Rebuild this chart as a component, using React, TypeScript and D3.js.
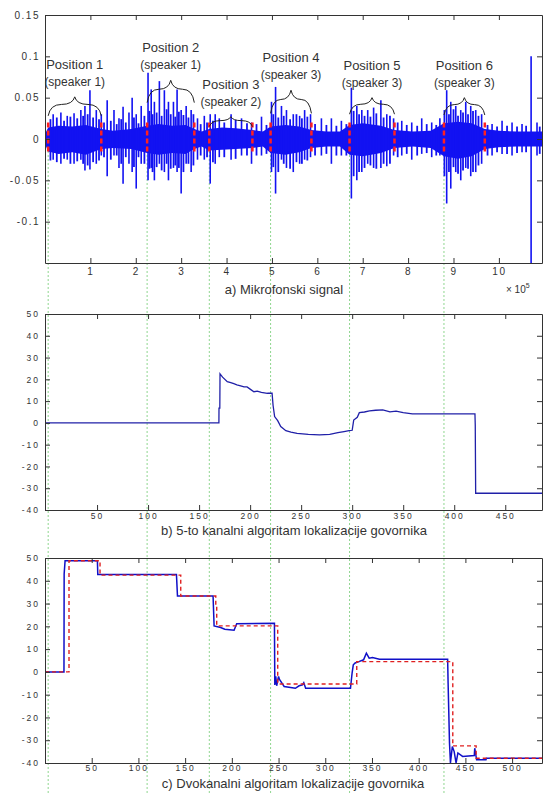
import React, { useEffect, useRef } from 'react';
import * as d3 from 'd3';

// ---- a) Mikrofonski signal (x in units of 10^5 samples)
const posStart = [0.07, 2.25, 3.62, 4.97, 6.71, 8.79];
const posEnd = [1.24, 3.29, 4.57, 5.87, 7.7, 9.69];
const posLabels = ['Position 1', 'Position 2', 'Position 3', 'Position 4', 'Position 5', 'Position 6'];
const speakerLabels = ['(speaker 1)', '(speaker 1)', '(speaker 2)', '(speaker 3)', '(speaker 3)', '(speaker 3)'];
const braceBase = [0.028, 0.044, 0.015, 0.031, 0.03, 0.029];
const bracePeak = [0.051, 0.071, 0.027, 0.059, 0.05, 0.05];

// dense core of the waveform (envelope)
const bandX = [0, 0.07, 0.3, 0.6, 0.9, 1.24, 1.5, 1.9, 2.25, 2.5, 2.8, 3.1, 3.29, 3.45, 3.62, 3.9, 4.2, 4.57, 4.8, 4.97, 5.3, 5.6, 5.87, 6.2, 6.5, 6.71, 7.0, 7.4, 7.7, 8.1, 8.5, 8.79, 9.1, 9.4, 9.69, 10.0, 10.4, 10.95];
const bandHi = [0.006, 0.014, 0.016, 0.015, 0.017, 0.012, 0.01, 0.012, 0.016, 0.018, 0.016, 0.017, 0.012, 0.009, 0.012, 0.014, 0.013, 0.011, 0.009, 0.015, 0.017, 0.015, 0.011, 0.009, 0.009, 0.017, 0.019, 0.016, 0.011, 0.009, 0.01, 0.019, 0.021, 0.019, 0.012, 0.01, 0.009, 0.009];
const bandLo = [-0.006, -0.015, -0.018, -0.016, -0.019, -0.012, -0.011, -0.012, -0.017, -0.019, -0.017, -0.018, -0.012, -0.009, -0.014, -0.013, -0.012, -0.011, -0.009, -0.017, -0.019, -0.016, -0.011, -0.009, -0.009, -0.019, -0.021, -0.017, -0.011, -0.009, -0.011, -0.021, -0.024, -0.021, -0.012, -0.01, -0.009, -0.009];

// larger peaks
const spikeX = [0.18, 0.35, 0.49, 0.64, 0.79, 0.88, 0.99, 1.13, 1.24, 1.37,
  1.52, 1.63, 1.72, 1.85, 1.92, 2.01, 2.12, 2.27, 2.34, 2.41,
  2.52, 2.63, 2.72, 2.83, 2.91, 3.0, 3.11, 3.22, 3.36, 3.51,
  3.64, 3.75, 3.84, 4.1, 4.33, 4.55, 4.77, 4.99, 5.08, 5.21,
  5.32, 5.47, 5.61, 5.72, 5.85, 6.09, 6.31, 6.53, 6.75, 6.87,
  6.98, 7.11, 7.24, 7.4, 7.53, 7.68, 7.86, 8.08, 8.3, 8.52,
  8.7, 8.85, 8.94, 9.05, 9.16, 9.27, 9.38, 9.49, 9.62, 9.85,
  10.07, 10.29, 10.51, 10.71, 10.84];
const spikeHi = [0.03, 0.032, 0.028, 0.031, 0.035, 0.04, 0.059, 0.035, 0.03, 0.047,
  0.035, 0.025, 0.039, 0.032, 0.05, 0.03, 0.04, 0.08, 0.06, 0.045,
  0.07, 0.059, 0.045, 0.045, 0.06, 0.035, 0.04, 0.035, 0.025, 0.028,
  0.03, 0.03, 0.025, 0.03, 0.025, 0.02, 0.027, 0.045, 0.063, 0.04,
  0.035, 0.03, 0.028, 0.035, 0.03, 0.025, 0.025, 0.022, 0.062, 0.04,
  0.035, 0.035, 0.038, 0.047, 0.03, 0.025, 0.022, 0.02, 0.025, 0.02,
  0.025, 0.059, 0.045, 0.04, 0.035, 0.045, 0.04, 0.035, 0.03, 0.018,
  0.022, 0.02, 0.018, 0.1, 0.02];
const spikeLo = [-0.025, -0.03, -0.025, -0.03, -0.025, -0.038, -0.037, -0.03, -0.02, -0.045,
  -0.02, -0.035, -0.054, -0.03, -0.04, -0.06, -0.03, -0.05, -0.035, -0.05,
  -0.03, -0.04, -0.05, -0.035, -0.04, -0.066, -0.03, -0.04, -0.025, -0.025,
  -0.054, -0.03, -0.022, -0.025, -0.02, -0.03, -0.02, -0.04, -0.066, -0.025,
  -0.035, -0.04, -0.03, -0.025, -0.022, -0.02, -0.03, -0.02, -0.072, -0.05,
  -0.04, -0.03, -0.035, -0.035, -0.033, -0.02, -0.02, -0.025, -0.018, -0.022,
  -0.02, -0.078, -0.06, -0.04, -0.05, -0.035, -0.045, -0.04, -0.03, -0.02,
  -0.018, -0.02, -0.016, -0.15, -0.02];

// smaller peaks between them
const minorX = [0.12, 0.26, 0.42, 0.56, 0.71, 0.84, 0.94, 1.06, 1.19, 1.3,
  1.45, 1.58, 1.68, 1.78, 1.96, 2.06, 2.19, 2.3, 2.37, 2.46,
  2.57, 2.68, 2.77, 2.87, 2.95, 3.05, 3.16, 3.27, 3.43, 3.57,
  3.7, 3.95, 4.2, 4.45, 4.66, 4.88, 5.03, 5.14, 5.26, 5.4,
  5.54, 5.66, 5.78, 5.95, 6.2, 6.42, 6.64, 6.8, 6.92, 7.04,
  7.17, 7.3, 7.46, 7.6, 7.77, 7.97, 8.2, 8.41, 8.62, 8.8,
  8.9, 9.0, 9.1, 9.21, 9.32, 9.43, 9.55, 9.75, 9.96, 10.18,
  10.4, 10.6, 10.9];
const minorHi = [0.024, 0.026, 0.022, 0.027, 0.025, 0.028, 0.03, 0.026, 0.024, 0.02,
  0.022, 0.018, 0.024, 0.02, 0.026, 0.019, 0.028, 0.034, 0.03, 0.032,
  0.028, 0.036, 0.03, 0.027, 0.033, 0.029, 0.026, 0.03, 0.018, 0.02,
  0.022, 0.02, 0.023, 0.019, 0.018, 0.017, 0.03, 0.026, 0.028, 0.024,
  0.03, 0.025, 0.027, 0.018, 0.017, 0.016, 0.018, 0.034, 0.03, 0.028,
  0.027, 0.031, 0.026, 0.028, 0.02, 0.017, 0.016, 0.018, 0.017, 0.035,
  0.03, 0.036, 0.028, 0.032, 0.03, 0.034, 0.028, 0.017, 0.015, 0.016,
  0.015, 0.016, 0.015];
const minorLo = [-0.026, -0.028, -0.024, -0.03, -0.027, -0.03, -0.032, -0.028, -0.026, -0.022,
  -0.025, -0.02, -0.03, -0.022, -0.034, -0.022, -0.03, -0.036, -0.04, -0.034,
  -0.038, -0.03, -0.036, -0.032, -0.035, -0.04, -0.03, -0.032, -0.02, -0.022,
  -0.028, -0.022, -0.024, -0.02, -0.02, -0.018, -0.034, -0.04, -0.03, -0.036,
  -0.028, -0.03, -0.026, -0.02, -0.018, -0.02, -0.02, -0.045, -0.04, -0.035,
  -0.032, -0.036, -0.03, -0.03, -0.022, -0.018, -0.02, -0.017, -0.02, -0.045,
  -0.04, -0.034, -0.042, -0.038, -0.036, -0.04, -0.032, -0.02, -0.016, -0.018,
  -0.017, -0.016, -0.018];

// ---- b) 5-to kanalni algoritam
const midX = [0, 169.4, 169.5, 170.3, 170.5, 173, 177.6, 181, 184, 187,
  190.7, 194, 197, 200, 203.7, 207, 211, 216.9, 221.5, 222.5,
  224, 227, 230, 235, 240, 246, 257, 268, 278, 286,
  292, 297, 300, 301.5, 305, 307, 312, 317, 323, 330,
  337, 343, 350, 359, 380, 400, 420.3, 420.6, 421, 486];
const midY = [0, 0, 6.8, 6.8, 22.5, 21, 18.9, 18.5, 18, 17.5,
  17, 16.5, 16.5, 15.5, 14.3, 14.6, 14, 13.6, 13.6, 8,
  2.9, 1, -1.7, -3.6, -4.2, -4.8, -5.3, -5.5, -5.3, -4.5,
  -4, -3.6, -3.4, 1.3, 2.6, 4.7, 5, 5.5, 5.8, 6,
  5.1, 5.4, 4.7, 4.1, 4.1, 4.1, 4.1, -1, -32.3, -32.3];

// ---- c) Dvokanalni algoritam
const botX = [0, 20.3, 20.5, 21.5, 56.1, 56.5, 140.7, 141, 141.8, 179.9,
  180.3, 181, 188, 192.4, 202.4, 205.2, 245.6, 246, 247, 248,
  250, 251, 256, 268, 272, 275.6, 277, 279, 327, 328.7,
  330, 332, 336, 341, 344, 347, 350.5, 358, 431, 431.5,
  433, 434, 436, 438, 440, 442, 447, 459.5, 460, 462,
  472, 472.5, 532];
const botY = [0, 0, 43, 48.8, 48.8, 42.8, 42.8, 40.3, 33.3, 33.3,
  28.6, 20.2, 19.5, 18.7, 18.3, 21.1, 21.3, -5.7, -2, -6.1,
  -2, -3.3, -6.4, -7.2, -6.1, -5.7, -4.8, -7.2, -7.2, -0.6,
  3.1, 3.9, 4.5, 5.3, 8.2, 6, 6.3, 5.6, 5.6, -5,
  -31.3, -40, -32.8, -35, -40, -35.6, -37.1, -36.7, -33.5, -38.6,
  -38.6, -37.9, -37.9];
const refX = [0, 25.7, 58.9, 145.3, 182.8, 183.8, 249.1, 333.7, 436.5, 461.5, 532];
const refY = [0, 48.8, 42.5, 33.3, 28.6, 20.2, -5.3, 4.5, -32.5, -37.9, -37.9];

const topYTicks = [-0.1, -0.05, 0, 0.05, 0.1, 0.15];
const topXTicks = [1, 2, 3, 4, 5, 6, 7, 8, 9, 10];
const angleTicks = [-40, -30, -20, -10, 0, 10, 20, 30, 40, 50];
const midXTicks = [50, 100, 150, 200, 250, 300, 350, 400, 450];
const botXTicks = [50, 100, 150, 200, 250, 300, 350, 400, 450, 500];

const FONT = 'Liberation Sans, Arial, sans-serif';

const App = () => {
  const svgRef = useRef<SVGSVGElement>(null);

  useEffect(() => {
    const svg = d3.select(svgRef.current);
    svg.selectAll('*').remove();

    // scales for the three panels
    const xA = d3.scaleLinear().domain([0, 10.95]).range([45, 542]);
    const yA = d3.scaleLinear().domain([-0.15, 0.15]).range([263, 15]);
    const xB = d3.scaleLinear().domain([-1, 486]).range([45, 542]);
    const yB = d3.scaleLinear().domain([-40, 50]).range([510, 314]);
    const xC = d3.scaleLinear().domain([0, 532]).range([45, 542]);
    const yC = d3.scaleLinear().domain([-40, 50]).range([763, 558]);

    const frame = (x: any, y: any, xt: number[], yt: number[], pad: number, fs: number, ls: number) => {
      const g = svg.append('g');
      const [x0, x1] = x.range();
      const [y0, y1] = y.range();
      g.append('g').attr('transform', `translate(0,${y0})`)
        .call(d3.axisBottom(x).tickValues(xt).tickSize(-5).tickSizeOuter(0).tickPadding(pad).tickFormat((d: any) => String(d)));
      g.append('g').attr('transform', `translate(0,${y1})`)
        .call(d3.axisTop(x).tickValues(xt).tickSize(-5).tickSizeOuter(0).tickFormat(() => ''));
      g.append('g').attr('transform', `translate(${x0},0)`)
        .call(d3.axisLeft(y).tickValues(yt).tickSize(-5).tickSizeOuter(0).tickPadding(5).tickFormat((d: any) => String(d)));
      g.append('g').attr('transform', `translate(${x1},0)`)
        .call(d3.axisRight(y).tickValues(yt).tickSize(-5).tickSizeOuter(0).tickFormat(() => ''));
      g.selectAll('path.domain').attr('stroke', '#333');
      g.selectAll('.tick line').attr('stroke', '#333');
      g.selectAll('text').attr('font-family', FONT).attr('font-size', fs)
        .attr('letter-spacing', ls).attr('fill', '#333');
    };

    // green dashed guide lines through all panels
    svg.append('g').selectAll('line').data(posStart).join('line')
      .attr('x1', d => xA(d)).attr('x2', d => xA(d))
      .attr('y1', yA(0)).attr('y2', 794)
      .attr('stroke', '#8fd68f').attr('stroke-width', 1).attr('stroke-dasharray', '2,2');

    // ---- panel a
    const gA = svg.append('g');
    const blue = '#1212f2';
    const band = d3.area<number>()
      .x((_, i) => xA(bandX[i]))
      .y0((_, i) => yA(bandLo[i]))
      .y1(d => yA(d));
    gA.append('path').datum(bandHi).attr('d', band).attr('fill', blue);
    gA.selectAll('line.minor').data(minorX).join('line')
      .attr('class', 'minor')
      .attr('x1', d => xA(d)).attr('x2', d => xA(d))
      .attr('y1', (_, i) => yA(minorHi[i])).attr('y2', (_, i) => yA(minorLo[i]))
      .attr('stroke', blue).attr('stroke-width', 1.8);
    gA.selectAll('line.spike').data(spikeX).join('line')
      .attr('class', 'spike')
      .attr('x1', d => xA(d)).attr('x2', d => xA(d))
      .attr('y1', (_, i) => yA(spikeHi[i])).attr('y2', (_, i) => yA(spikeLo[i]))
      .attr('stroke', blue).attr('stroke-width', 1.6);

    // red boundary markers
    gA.selectAll('line.mark').data(posStart.concat(posEnd)).join('line')
      .attr('class', 'mark')
      .attr('x1', d => xA(d)).attr('x2', d => xA(d))
      .attr('y1', yA(0.02)).attr('y2', yA(-0.015))
      .attr('stroke', '#ff2020').attr('stroke-width', 2.5).attr('stroke-dasharray', '5,3');

    // braces + labels
    posStart.forEach((s, i) => {
      const a = xA(s), b = xA(posEnd[i]), m = (a + b) / 2;
      const yb = yA(braceBase[i]), yp = yA(bracePeak[i]);
      const ym = yp + (yb - yp) * 0.4;
      const p = d3.path();
      p.moveTo(a, yb);
      p.quadraticCurveTo(a + 2, ym, (a + m) / 2, ym);
      p.quadraticCurveTo(m - 2, ym, m, yp);
      p.quadraticCurveTo(m + 2, ym, (m + b) / 2, ym);
      p.quadraticCurveTo(b - 2, ym, b, yb);
      gA.append('path').attr('d', p.toString()).attr('fill', 'none')
        .attr('stroke', '#222').attr('stroke-width', 1);
      gA.append('text').attr('x', m).attr('y', yp - 28).attr('text-anchor', 'middle')
        .attr('font-family', FONT).attr('font-size', 13).attr('fill', '#333').text(posLabels[i]);
      gA.append('text').attr('x', m).attr('y', yp - 11).attr('text-anchor', 'middle')
        .attr('font-family', FONT).attr('font-size', 12).attr('fill', '#333').text(speakerLabels[i]);
    });
    frame(xA, yA, topXTicks, topYTicks, 5, 10, 1.5);

    // ---- panel b
    const lineB = d3.line<number>().x(d => xB(d)).y((_, i) => yB(midY[i]));
    svg.append('path').datum(midX).attr('d', lineB)
      .attr('fill', 'none').attr('stroke', '#2020a8').attr('stroke-width', 1.3);
    frame(xB, yB, midXTicks, angleTicks, 3, 8.5, 2);

    // ---- panel c
    const lineC = d3.line<number>().x(d => xC(d)).y((_, i) => yC(botY[i]));
    svg.append('path').datum(botX).attr('d', lineC)
      .attr('fill', 'none').attr('stroke', '#1010c8').attr('stroke-width', 1.5);
    const lineR = d3.line<number>().x(d => xC(d)).y((_, i) => yC(refY[i])).curve(d3.curveStepAfter);
    svg.append('path').datum(refX).attr('d', lineR)
      .attr('fill', 'none').attr('stroke', '#e02020').attr('stroke-width', 1.4).attr('stroke-dasharray', '4,3');
    frame(xC, yC, botXTicks, angleTicks, 2, 8.5, 2);

    // captions
    const cap = (x: number, y: number, t: string) =>
      svg.append('text').attr('x', x).attr('y', y).attr('text-anchor', 'middle')
        .attr('font-family', FONT).attr('font-size', 13).attr('fill', '#333').text(t);
    cap(284, 294, 'a) Mikrofonski signal');
    cap(294, 535, 'b) 5-to kanalni algoritam lokalizacije govornika');
    cap(293, 788, 'c) Dvokanalni algoritam lokalizacije govornika');

    const exp = svg.append('text').attr('x', 506).attr('y', 293)
      .attr('font-family', FONT).attr('font-size', 10).attr('fill', '#333');
    exp.append('tspan').text('× 10');
    exp.append('tspan').attr('dy', -5).attr('font-size', 7).text('5');
  }, []);

  return (
    <svg ref={svgRef} width={544} height={794}
      style={{ position: 'absolute', left: 0, top: 0, background: '#fff' }} />
  );
};

export default App;
